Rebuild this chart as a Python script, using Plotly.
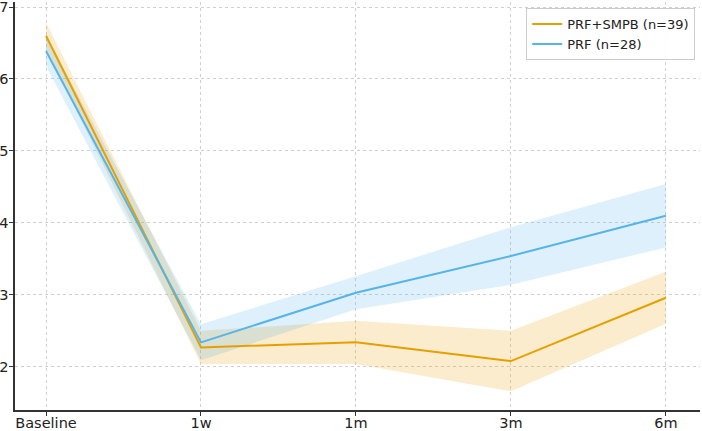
import plotly.graph_objects as go

categories = ["Baseline", "1w", "1m", "3m", "6m"]
smpb_mean = [6.60, 2.27, 2.34, 2.08, 2.96]
smpb_err = [0.18, 0.23, 0.30, 0.42, 0.36]
prf_mean = [6.39, 2.34, 3.03, 3.54, 4.10]
prf_err = [0.21, 0.25, 0.23, 0.40, 0.44]

ORANGE = "#E69F00"
BLUE = "#56B4E9"
x = list(range(len(categories)))

fig = go.Figure()

def add_band(mean, err, color_rgba):
    upper = [m + e for m, e in zip(mean, err)]
    lower = [m - e for m, e in zip(mean, err)]
    fig.add_trace(go.Scatter(x=x + x[::-1], y=upper + lower[::-1], fill="toself",
                             fillcolor=color_rgba, line=dict(width=0), hoverinfo="skip",
                             showlegend=False, mode="lines"))

add_band(smpb_mean, smpb_err, "rgba(230,159,0,0.2)")
add_band(prf_mean, prf_err, "rgba(86,180,233,0.2)")

fig.add_trace(go.Scatter(x=x, y=smpb_mean, mode="lines", name="PRF+SMPB (n=39)",
                         line=dict(color=ORANGE, width=2)))
fig.add_trace(go.Scatter(x=x, y=prf_mean, mode="lines", name="PRF (n=28)",
                         line=dict(color=BLUE, width=2)))

axis_common = dict(showgrid=True, gridcolor="#d0d0d0", griddash="3px,3px", gridwidth=1,
                   showline=True, linecolor="#333333", linewidth=1.5,
                   ticks="outside", ticklen=4, tickcolor="#333333",
                   zeroline=False, automargin=False, ticklabeloverflow="allow",
                   tickfont=dict(size=14.5, color="#222222"))

fig.update_layout(
    width=702, height=431,
    margin=dict(l=15, r=2, t=2, b=21),
    plot_bgcolor="white", paper_bgcolor="white",
    font=dict(family="DejaVu Sans", size=14, color="#222222"),
    xaxis=dict(range=[-0.2, 4.22], tickvals=x, ticktext=categories,
               ticklabelstandoff=-5, **axis_common),
    yaxis=dict(range=[1.40, 7.07], tickvals=[2, 3, 4, 5, 6, 7],
               ticklabelstandoff=-2, **axis_common),
    legend=dict(x=0.993, y=0.985, xanchor="right", yanchor="top",
                bgcolor="rgba(255,255,255,0.9)", bordercolor="#cccccc", borderwidth=1,
                font=dict(size=13), tracegroupgap=0, itemwidth=30),
    showlegend=True,
)

fig.write_html("out.html")
